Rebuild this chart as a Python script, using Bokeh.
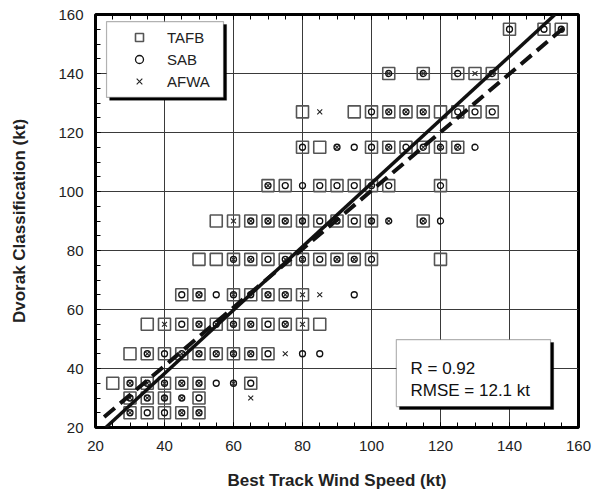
from bokeh.plotting import figure
from bokeh.models import (Range1d, FixedTicker, LinearAxis, Legend, LegendItem,
                          BoxAnnotation, Label)
from bokeh.embed import file_html
from bokeh.resources import INLINE

# ---- data: Dvorak classification level -> best-track speeds where each agency has a point
tafb = {
    25: [30, 35, 40, 45, 50],
    30: [30, 35, 40, 50],
    35: [25, 30, 35, 40, 45, 50, 65],
    45: [30, 35, 40, 45, 50, 55, 60, 65, 70],
    55: [35, 40, 45, 50, 55, 60, 65, 70, 75, 80, 85],
    65: [45, 50, 60, 65, 70, 75, 80],
    77: [50, 55, 60, 65, 70, 75, 80, 85, 90, 95, 100, 120],
    90: [55, 60, 65, 70, 75, 80, 85, 90, 95, 100, 115],
    102: [70, 75, 85, 90, 95, 100, 105, 120],
    115: [80, 85, 100, 105, 110, 115, 120, 125],
    127: [80, 95, 100, 105, 110, 115, 120, 125, 130, 135],
    140: [105, 115, 125, 130, 135],
    155: [140, 150, 155],
}
sab = {
    25: [30, 35, 40, 45, 50],
    30: [30, 35, 40, 45, 50],
    35: [30, 35, 40, 45, 50, 55, 60, 65],
    45: [35, 40, 45, 50, 55, 60, 65, 70, 80, 85],
    55: [45, 50, 55, 60, 65, 70, 75],
    65: [45, 50, 55, 60, 65, 70, 75, 95],
    77: [60, 65, 70, 75, 80, 85, 90, 95, 100],
    90: [65, 70, 75, 80, 85, 90, 95, 100, 105, 115, 120],
    102: [70, 75, 80, 85, 90, 95, 100, 105, 120],
    115: [80, 90, 95, 100, 105, 110, 115, 120, 125, 130],
    127: [100, 105, 110, 115, 125, 130, 135],
    140: [105, 115, 125, 135],
    155: [140, 150, 155],
}
afwa = {
    25: [30, 45, 50],
    30: [30, 35, 40, 45, 65],
    35: [30, 35, 40, 45, 50, 60],
    45: [35, 45, 50, 55, 60, 65, 75],
    55: [40, 50, 55, 60, 65, 75, 80],
    65: [50, 60, 65, 70, 75, 80, 85],
    77: [60, 65, 75, 80, 90, 95],
    90: [60, 65, 70, 75, 80, 90, 100, 105, 115],
    102: [70, 100],
    115: [90, 105, 115, 120, 125],
    127: [85, 105, 110, 115],
    140: [105, 115, 130, 135],
    155: [155],
}

fit_slope = 1.075
fit_intercept = -4.7
fit_x_ends = [23.0, 153.2]
ref_slope = 0.99
ref_intercept = 1.3
ref_x_ends = [22.5, 157.0]

major_ticks = [20, 40, 60, 80, 100, 120, 140, 160]
stats_lines = ["R = 0.92", "RMSE = 12.1 kt"]


def flatten(rows):
    xs, ys = [], []
    for yv, xl in rows.items():
        for xv in xl:
            xs.append(xv)
            ys.append(yv)
    return xs, ys


FONT = "Liberation Sans"
minor_ticks = list(range(20, 161, 5))

p = figure(width=592, height=496, output_backend="svg", toolbar_location=None,
           x_range=Range1d(20, 160), y_range=Range1d(20, 160),
           min_border_left=95, min_border_right=14, min_border_top=14,
           min_border_bottom=69, background_fill_color="white",
           border_fill_color="white")
p.outline_line_color = "black"
p.outline_line_width = 3

ticker = FixedTicker(ticks=major_ticks, minor_ticks=minor_ticks)
for ax in (p.xaxis[0], p.yaxis[0]):
    ax.ticker = ticker
    ax.axis_line_color = None
    ax.major_tick_in = 5
    ax.major_tick_out = 0
    ax.minor_tick_in = 5
    ax.minor_tick_out = 0
    ax.major_tick_line_color = "black"
    ax.minor_tick_line_color = "black"
    ax.major_label_text_font = FONT
    ax.major_label_text_font_size = "15px"
    ax.major_label_text_color = "#222222"
    ax.axis_label_text_font = FONT
    ax.axis_label_text_font_size = "17px"
    ax.axis_label_text_font_style = "bold"
    ax.axis_label_text_color = "#222222"
p.xaxis.major_label_standoff = 13
p.yaxis.major_label_standoff = 12
p.yaxis.axis_label = "Dvorak Classification (kt)"
p.yaxis.axis_label_standoff = 26
p.xaxis.axis_label = "Best Track Wind Speed (kt)"
p.xaxis.axis_label_standoff = 17

top_axis = LinearAxis(ticker=ticker, axis_line_color=None, major_tick_in=5,
                      major_tick_out=0, minor_tick_in=5, minor_tick_out=0,
                      major_tick_line_color="black", minor_tick_line_color="black",
                      major_label_text_font_size="0px", major_label_text_color=None,
                      major_label_standoff=0)
p.add_layout(top_axis, "above")

p.xgrid.ticker = FixedTicker(ticks=major_ticks)
p.ygrid.ticker = FixedTicker(ticks=major_ticks)
p.grid.grid_line_color = "#3a3a3a"
p.grid.grid_line_width = 1

tx, ty = flatten(tafb)
sx, sy = flatten(sab)
ax_, ay = flatten(afwa)

r_t = p.scatter(tx, ty, marker="square", size=12, fill_color=None,
                line_color="#555555", line_width=1.6)
r_s = p.scatter(sx, sy, marker="circle", size=6, fill_color=None,
                line_color="#111111", line_width=1.3)
r_a = p.scatter(ax_, ay, marker="x", size=7, line_color="#222222", line_width=1.1)

fit_y = [fit_slope * v + fit_intercept for v in fit_x_ends]
ref_y = [ref_slope * v + ref_intercept for v in ref_x_ends]
p.line(fit_x_ends, fit_y, line_color="#111111", line_width=3.5)
p.line(ref_x_ends, ref_y, line_color="#111111", line_width=4, line_dash="14 7")

# legend box with drop shadow
p.add_layout(BoxAnnotation(left=24.1, right=58.0, top=156.6, bottom=130.9,
                           fill_color="black", fill_alpha=1, line_color="black"))
p.add_layout(BoxAnnotation(left=23.2, right=57.1, top=157.6, bottom=131.9,
                           fill_color="white", fill_alpha=1, line_color="black",
                           line_width=1.2))
legend = Legend(items=[LegendItem(label="TAFB", renderers=[r_t]),
                       LegendItem(label="SAB", renderers=[r_s]),
                       LegendItem(label="AFWA", renderers=[r_a])],
                location=(34, 336), padding=0, margin=0, spacing=2,
                glyph_width=20, glyph_height=20, label_standoff=18,
                border_line_color=None, background_fill_alpha=0,
                label_text_font=FONT, label_text_font_size="15px",
                label_text_color="#222222", label_height=20)
p.add_layout(legend, "center")

# stats box with drop shadow
p.add_layout(BoxAnnotation(left=108.1, right=152.8, top=48.8, bottom=26.1,
                           fill_color="black", fill_alpha=1, line_color="black"))
p.add_layout(BoxAnnotation(left=107.2, right=151.9, top=49.8, bottom=27.1,
                           fill_color="white", fill_alpha=1, line_color="black",
                           line_width=1.2))
for txt, yb in zip(stats_lines, [40.0, 32.5]):
    p.add_layout(Label(x=111.3, y=yb, text=txt, text_font=FONT,
                       text_font_size="17px", text_color="#111111",
                       text_baseline="alphabetic", text_align="left"))

open("out.html", "w").write(file_html(p, INLINE))
